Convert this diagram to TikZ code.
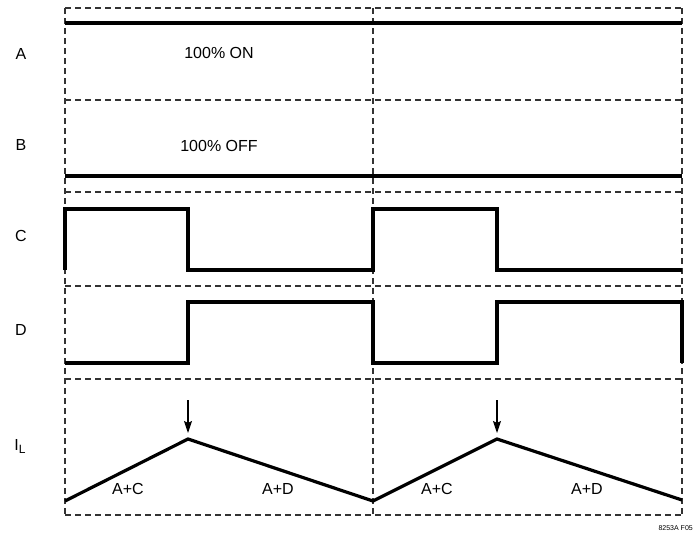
\documentclass[tikz,border=0pt]{standalone}
\usepackage{fontspec}
\setmainfont{Liberation Sans}
\usetikzlibrary{arrows.meta}
\begin{document}
\begin{tikzpicture}[x=1pt,y=-1pt,
  grid/.style={line width=1.1pt, dash pattern=on 6pt off 4pt, black!80},
  sig/.style={line width=3.2pt, line join=miter, line cap=butt},
  lbl/.style={font=\fontsize{16}{18}\selectfont, inner sep=0pt},
  small/.style={font=\fontsize{7}{8}\selectfont, inner sep=0pt},
  marker/.style={line width=1.1pt, -{Stealth[length=12pt,width=8pt,inset=2pt]}}]
\useasboundingbox (0,0) rectangle (694,533);
% grid
\foreach \y in {8,100,192,286,379,515}
  \draw[grid] (65,\y) -- (682,\y);
\foreach \x in {65,373,682}
  \draw[grid] (\x,8) -- (\x,515);
% row labels
\node[lbl] (la) at (21,54) {A};
\node[lbl] (lb) at (21,145) {B};
\node[lbl] (lc) at (21,236) {C};
\node[lbl] (ld) at (21,330) {D};
\node[lbl] (li) at (20,446) {I\raisebox{-3pt}{\fontsize{12}{12}\selectfont L}};
% A and B
\draw[sig] (65,23) -- (682,23);
\draw[sig] (65,176) -- (682,176);
\node[lbl] (on) at (219,53) {100\% ON};
\node[lbl] (off) at (219,146) {100\% OFF};
% C
\draw[sig] (65,270) -- (65,209) -- (188,209) -- (188,270) -- (373,270) -- (373,209) -- (497,209) -- (497,270) -- (682,270);
% D
\draw[sig] (65,363) -- (188,363) -- (188,302) -- (373,302) -- (373,363) -- (497,363) -- (497,302) -- (682,302) -- (682,363);
% IL
\coordinate (v0) at (65,501);
\coordinate (p1) at (188,439);
\coordinate (v1) at (373,501);
\coordinate (p2) at (497,439);
\coordinate (v2) at (682,500);
\draw[sig] (v0) -- (p1) -- (v1) -- (p2) -- (v2);
\coordinate (a1) at (188,400);
\coordinate (a2) at (497,400);
\coordinate (t1) at (188,433);
\coordinate (t2) at (497,433);
\draw[marker] (a1) -- (t1);
\draw[marker] (a2) -- (t2);
\node[lbl] (ac1) at (128,489) {A+C};
\node[lbl] (ad1) at (278,489) {A+D};
\node[lbl] (ac2) at (437,489) {A+C};
\node[lbl] (ad2) at (587,489) {A+D};
\node[small, anchor=east] (fig) at (693,528) {8253A F05};
\end{tikzpicture}
\end{document}
